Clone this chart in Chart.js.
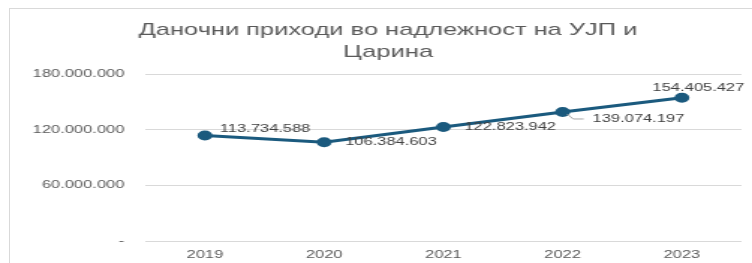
<!DOCTYPE html>
<html>
<head>
<meta charset="utf-8">
<script src="https://cdn.jsdelivr.net/npm/chart.js@4.4.0/dist/chart.umd.min.js"></script>
<style>
  html, body { margin: 0; padding: 0; background: #fff; overflow: hidden; }
  #wrap { position: relative; width: 752px; height: 263px; }
  #frame { position: absolute; left: 9px; top: 8px; width: 800px; height: 300px; border: 1px solid #d9d9d9; }
  #c { position: absolute; left: 0; top: 0; transform: scaleX(1.498); transform-origin: 0 0; }
</style>
</head>
<body>
<div id="wrap">
  <div id="frame"></div>
  <canvas id="c" width="502" height="263"></canvas>
</div>
<script>
// data
const years = ['2019', '2020', '2021', '2022', '2023'];
const revenue = [113734588, 106384603, 122823942, 139074197, 154405427];
const yTicks = [0, 60000000, 120000000, 180000000];

const chartTitle = ['Даночни приходи во надлежност на УЈП и', 'Царина'];

// where each value label sits next to its point (canvas px, before stretch)
const labelPlace = [
  { dx: 10, dy: -7, align: 'left' },
  { dx: 14, dy: 0, align: 'left' },
  { dx: 14, dy: 0, align: 'left' },
  { dx: 20, dy: 7, align: 'left', leader: true },
  { dx: 11, dy: -10, align: 'center' }
];

const fmt = v => v === 0 ? '-' : String(Math.round(v)).replace(/\B(?=(\d{3})+(?!\d))/g, '.');

const lineColor = '#1b5a7e';
const textFont = "'Liberation Sans', Arial, sans-serif";

const valueLabels = {
  id: 'valueLabels',
  afterDatasetsDraw(chart) {
    const ctx = chart.ctx;
    const meta = chart.getDatasetMeta(0);
    ctx.save();
    ctx.font = '11px ' + textFont;
    ctx.fillStyle = '#404040';
    ctx.textBaseline = 'middle';
    meta.data.forEach((pt, i) => {
      const p = labelPlace[i];
      if (p.leader) {
        ctx.strokeStyle = '#a6a6a6';
        ctx.lineWidth = 1;
        ctx.beginPath();
        ctx.moveTo(pt.x + 3, pt.y + 2);
        ctx.lineTo(pt.x + 7, pt.y + p.dy);
        ctx.lineTo(pt.x + p.dx - 6, pt.y + p.dy);
        ctx.stroke();
      }
      ctx.textAlign = p.align;
      ctx.fillText(fmt(revenue[i]), pt.x + p.dx, pt.y + p.dy);
    });
    ctx.restore();
  }
};

new Chart(document.getElementById('c').getContext('2d'), {
  type: 'line',
  data: {
    labels: years,
    datasets: [{
      data: revenue,
      borderColor: lineColor,
      backgroundColor: lineColor,
      borderWidth: 3,
      pointRadius: 3.5,
      pointBackgroundColor: lineColor,
      pointBorderColor: lineColor,
      tension: 0,
      fill: false
    }]
  },
  options: {
    responsive: false,
    devicePixelRatio: 1,
    animation: false,
    layout: { padding: { left: 21, right: 5, top: 0, bottom: 0 } },
    plugins: {
      legend: { display: false },
      tooltip: { enabled: false },
      title: {
        display: true,
        text: chartTitle,
        color: '#595959',
        font: { family: textFont, size: 17, weight: 'normal', lineHeight: 1.25 },
        padding: { top: 20, bottom: 11.5 }
      }
    },
    scales: {
      x: {
        offset: true,
        grid: { display: false },
        border: { display: false },
        ticks: { color: '#595959', font: { family: textFont, size: 11 }, padding: -1, maxRotation: 0 },
        afterFit(s) { s.height = 22; }
      },
      y: {
        min: 0,
        max: 180000000,
        afterBuildTicks(s) { s.ticks = yTicks.map(v => ({ value: v })); },
        grid: { color: '#d9d9d9', lineWidth: 1, drawTicks: false },
        border: { display: false },
        ticks: {
          color: '#595959',
          font: { family: textFont, size: 11 },
          padding: 14,
          callback: v => fmt(v)
        },
        afterFit(s) { s.width = 76; }
      }
    }
  },
  plugins: [valueLabels]
});
</script>
</body>
</html>
